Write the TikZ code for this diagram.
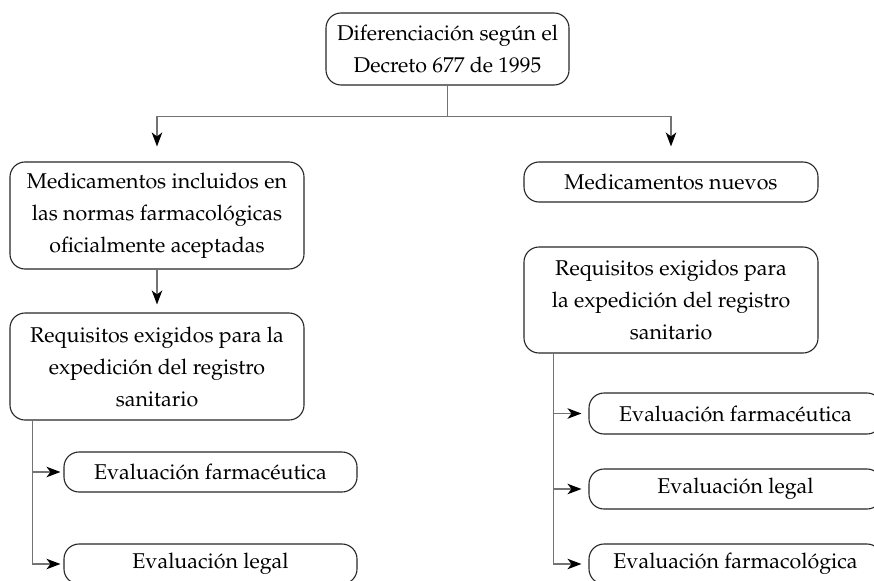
\documentclass[tikz,border=0pt]{standalone}
\usepackage[T1]{fontenc}
\usepackage{mathpazo}
\usetikzlibrary{arrows.meta,calc}
\begin{document}
\begin{tikzpicture}[x=1pt,y=-1pt,
  box/.style={draw=black!85, line width=1.1pt, rounded corners=15pt, align=center,
    inner sep=0pt, font=\fontsize{21.4}{32}\selectfont},
  conn/.style={draw=black!55, line width=1.3pt},
  arr/.style={conn, -{Stealth[length=14pt,width=10.5pt,inset=4pt,color=black]}}]
\useasboundingbox (0,0) rectangle (874,580);
\clip (0,0) rectangle (874,580);
\node[box, minimum width=243pt, minimum height=72pt] (top) at (447.5,49) {Diferenciaci\'on seg\'un el\\Decreto 677 de 1995};
\node[box, minimum width=294pt, minimum height=107pt] (A) at (157,215.5) {Medicamentos incluidos en\\las normas farmacol\'ogicas\\oficialmente aceptadas};
\node[box, minimum width=294pt, minimum height=40pt] (B) at (671,182) {Medicamentos nuevos};
\node[box, minimum width=294pt, minimum height=107pt] (C) at (157,366.5) {Requisitos exigidos para la\\expedici\'on del registro\\sanitario};
\node[box, minimum width=294pt, minimum height=106pt] (D) at (671,300) {Requisitos exigidos para\\la expedici\'on del registro\\sanitario};
\node[box, minimum width=293pt, minimum height=40pt] (L1) at (210.5,472) {Evaluaci\'on farmac\'eutica};
\node[box, minimum width=293pt, minimum height=40pt] (L2) at (210.5,564) {Evaluaci\'on legal};
\node[box, minimum width=293pt, minimum height=41pt] (R1) at (735.5,413.5) {Evaluaci\'on farmac\'eutica};
\node[box, minimum width=293pt, minimum height=40pt] (R2) at (735.5,489) {Evaluaci\'on legal};
\node[box, minimum width=293pt, minimum height=40pt] (R3) at (735.5,564) {Evaluaci\'on farmacol\'ogica};
\coordinate (split) at ($(top.south)+(0,31)$);
\draw[conn] (top.south) -- (split);
\draw[arr, shorten >=15pt] (split) -| (A.north);
\draw[arr, shorten >=15pt] (split) -| (B.north);
\draw[arr, shorten >=8pt] (A.south) -- (C.north);
\coordinate (cl) at ($(C.south west)+(23,0)$);
\draw[arr, shorten >=3pt] (cl) |- (L1.west);
\draw[arr, shorten >=3pt] (cl) |- (L2.west);
\coordinate (dr) at ($(D.south west)+(30,0)$);
\draw[arr, shorten >=7pt] (dr) |- (R1.west);
\draw[arr, shorten >=7pt] (dr) |- (R2.west);
\draw[arr, shorten >=7pt] (dr) |- (R3.west);
\end{tikzpicture}
\end{document}
